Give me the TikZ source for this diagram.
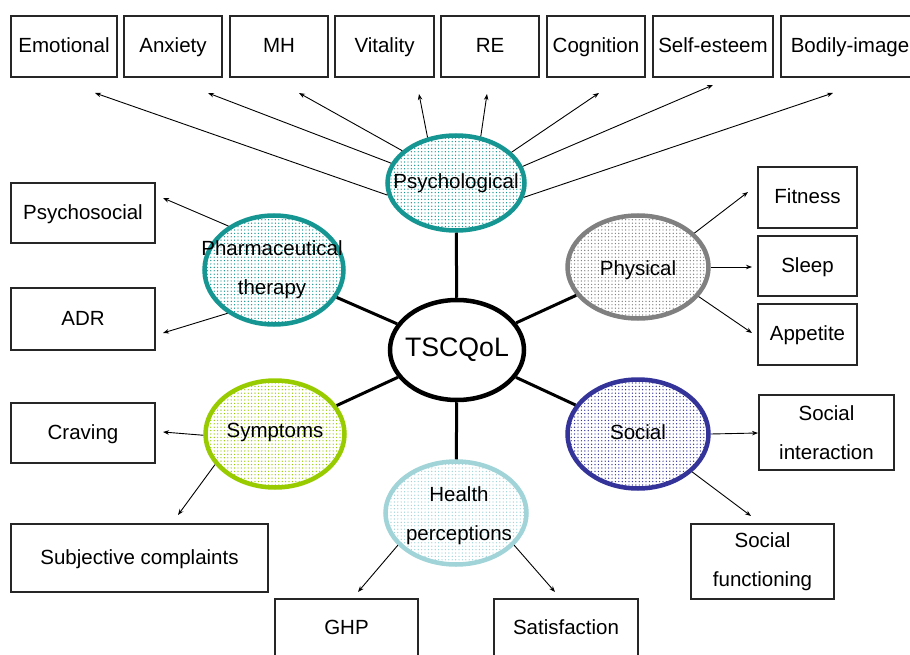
\documentclass[tikz,border=0pt]{standalone}
\usepackage{fontspec}
\setmainfont{Liberation Sans}
\usetikzlibrary{shapes.geometric,arrows.meta,patterns.meta}

\definecolor{tealring}{RGB}{22,150,146}
\definecolor{grayring}{RGB}{128,128,128}
\definecolor{greenring}{RGB}{153,204,0}
\definecolor{navyring}{RGB}{51,51,153}
\definecolor{paleblue}{RGB}{160,212,216}

\begin{document}
\begin{tikzpicture}[x=1pt,y=-1pt,
  lbl/.style={font=\fontsize{20.5}{39}\selectfont, align=center, text=black, inner sep=0pt},
  oneline/.style={lbl, text height=14.7pt, text depth=2pt},
  box/.style={lbl, draw=black!85, line width=1.1pt, fill=white},
  sbox/.style={box, oneline},
  topic/.style={ellipse, line width=4.5pt, draw=#1, inner sep=0pt,
    preaction={fill=white},
    pattern={Dots[distance=3.4pt,radius=0.7pt]}, pattern color=#1},
  spoke/.style={line width=3pt, black},
  arr/.style={line width=0.9pt, black, -{Stealth[length=6pt,width=4.5pt]}}]

\useasboundingbox (0,0) rectangle (910,655);
\clip (0,0) rectangle (910,655);

% psychological facets (top row)
\node[sbox, minimum width=106, minimum height=61] (emo)  at (64,46.5)  {Emotional};
\node[sbox, minimum width=98,  minimum height=61] (anx)  at (173,46.5) {Anxiety};
\node[sbox, minimum width=98,  minimum height=61] (mh)   at (279,46.5) {MH};
\node[sbox, minimum width=99,  minimum height=61] (vit)  at (384.5,46.5) {Vitality};
\node[sbox, minimum width=98,  minimum height=61] (re)   at (490,46.5) {RE};
\node[sbox, minimum width=98,  minimum height=61] (cog)  at (596,46.5) {Cognition};
\node[sbox, minimum width=120, minimum height=61] (self) at (713,46.5) {Self-esteem};
\node[sbox, minimum width=138, minimum height=61] (body) at (850,46.5) {Bodily-image};

% left column
\node[sbox, minimum width=144, minimum height=60] (psysoc) at (83,213)  {Psychosocial};
\node[sbox, minimum width=144, minimum height=62] (adr)    at (83,319)  {ADR};
\node[sbox, minimum width=144, minimum height=60] (crav)   at (83,433)  {Craving};
\node[sbox, minimum width=257, minimum height=68] (subj)   at (139.5,558) {Subjective complaints};

% right column
\node[sbox, minimum width=99,  minimum height=61] (fit)    at (807.5,197.5) {Fitness};
\node[sbox, minimum width=99,  minimum height=60] (sleep)  at (807.5,266)   {Sleep};
\node[sbox, minimum width=99,  minimum height=61] (appe)   at (807.5,334.5) {Appetite};
\node[box,  minimum width=135, minimum height=75] (socint) at (826.5,432.5) {Social\\interaction};
\node[box,  minimum width=143, minimum height=75] (socfun) at (762.5,561.5) {Social\\functioning};

% bottom row
\node[sbox, minimum width=143, minimum height=58] (ghp)  at (346.5,628) {GHP};
\node[sbox, minimum width=144, minimum height=58] (sat)  at (566,628)   {Satisfaction};

% domains (rings)
\node[topic=tealring,  minimum width=137, minimum height=95]  (psy)    at (456,183) {};
\node[topic=tealring,  minimum width=139, minimum height=109] (pharm)  at (274,270) {};
\node[topic=grayring,  minimum width=141, minimum height=103] (phys)   at (638,267) {};
\node[topic=greenring, minimum width=139, minimum height=107] (symp)   at (275,434) {};
\node[topic=navyring,  minimum width=141, minimum height=109] (soc)    at (638,434) {};
\node[topic=paleblue,  minimum width=141, minimum height=103] (health) at (456,513) {};

% domain names
\node[oneline] (psyL)    at (456,182.5) {Psychological};
\node[lbl]     (pharmL)  at (272,270)   {Pharmaceutical\\therapy};
\node[oneline] (physL)   at (638,269.5) {Physical};
\node[oneline] (sympL)   at (275,431)   {Symptoms};
\node[oneline] (socL)    at (638,433)   {Social};
\node[lbl]     (healthL) at (459,516)   {Health\\perceptions};

% core concept
\node[ellipse, draw=black, line width=4.5pt, fill=white, inner sep=0pt,
      minimum width=134, minimum height=100] (tsc) at (457,350) {};
\node[font=\fontsize{26.7}{30}\selectfont, inner sep=0pt] (tscL) at (457,350) {TSCQoL};

% spokes from the core
\foreach \d in {psy,pharm,phys,symp,soc,health}
  \draw[spoke] (tsc) -- (\d);

% arrow tips
\coordinate (emoT)    at (95,93);
\coordinate (anxT)    at (208,93);
\coordinate (mhT)     at (299,93);
\coordinate (vitT)    at (419,94);
\coordinate (reT)     at (487,94);
\coordinate (cogT)    at (599,93);
\coordinate (selfT)   at (713,85);
\coordinate (bodyT)   at (833,93);
\coordinate (psysocT) at (163,198);
\coordinate (adrT)    at (163,333);
\coordinate (fitT)    at (748,192);
\coordinate (sleepT)  at (752,267);
\coordinate (appeT)   at (752,333);
\coordinate (cravT)   at (163,432);
\coordinate (subjT)   at (178,515);
\coordinate (socintT) at (758,433);
\coordinate (socfunT) at (751,516);
\coordinate (ghpT)    at (358,592);
\coordinate (satT)    at (555,592);

% facet arrows
\draw[arr] (psy.190.8) -- (emoT);
\draw[arr] (psy.163.9) -- (anxT);
\draw[arr] (psy.149.7) -- (mhT);
\draw[arr] (psy.122.2) -- (vitT);
\draw[arr] (psy.62.4)  -- (reT);
\draw[arr] (psy.29.1)  -- (cogT);
\draw[arr] (psy.14.5)  -- (selfT);
\draw[arr] (psy.-12.4) -- (bodyT);

\draw[arr] (pharm.136.3) -- (psysocT);
\draw[arr] (pharm.223.7) -- (adrT);

\draw[arr] (phys.31.6)  -- (fitT);
\draw[arr] (phys.0)     -- (sleepT);
\draw[arr] (phys.-26.2) -- (appeT);

\draw[arr] (symp.181)   -- (cravT);
\draw[arr] (symp.207.3) -- (subjT);

\draw[arr] (soc.0)      -- (socintT);
\draw[arr] (soc.-35.1)  -- (socfunT);

\draw[arr] (health.209.8) -- (ghpT);
\draw[arr] (health.-29.1) -- (satT);
\end{tikzpicture}
\end{document}
